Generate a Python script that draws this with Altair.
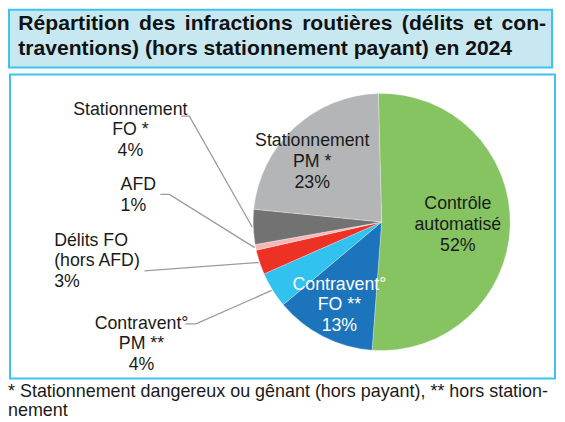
import math
import altair as alt
import pandas as pd

# ---------------- data ----------------
categories = ["Contrôle automatisé", "Contravent° FO", "Contravent° PM",
              "Délits FO", "AFD", "Stationnement FO", "Stationnement PM"]
shares = [51.6, 12.7, 4.5, 3.1, 0.7, 4.4, 23.0]
pct_labels = ["52%", "13%", "4%", "3%", "1%", "4%", "23%"]
label_names = ["Contrôle\nautomatisé", "Contravent°\nFO **", "Contravent°\nPM **",
               "Délits FO\n(hors AFD)", "AFD", "Stationnement\nFO *", "Stationnement\nPM *"]
colors = ["#86c462", "#1c75bc", "#31c2ef", "#ed3125", "#f8b7b7", "#727272", "#b3b5b7"]
title_lines = ["Répartition des infractions routières (délits et con-",
               "traventions) (hors stationnement payant) en 2024"]
footnote_lines = ["* Stationnement dangereux ou gênant (hors payant), ** hors station-",
                  "nement"]

# ---------------- layout / style ----------------
W, H = 551, 414
CX, CY, R = 375, 214, 129
START = math.radians(-1.5)
FONT = "Liberation Sans"
TXT = "#1a1a1a"
LINE = "#9b9b9b"
LAB_SIZE = 17.8
theta_scale = alt.Scale(domain=[0, 100], range=[START, START + 2 * math.pi])

df = pd.DataFrame({
    "idx": list(range(len(categories))),
    "cat": categories,
    "share": shares,
    "label": [n + "\n" + p for n, p in zip(label_names, pct_labels)],
})

# title box & plot frame
title_box = alt.Chart(alt.Data(values=[{}])).mark_rect(
    fill="#c7e8f1", stroke="#3ec3ee", strokeWidth=2
).encode(x=alt.value(1), x2=alt.value(546), y=alt.value(1), y2=alt.value(59))

frame = alt.Chart(alt.Data(values=[{}])).mark_rect(
    fill="white", stroke="#3ec3ee", strokeWidth=2
).encode(x=alt.value(2), x2=alt.value(549), y=alt.value(66), y2=alt.value(371))

# first title line is justified in the reference: widen its word gaps slightly
title_l1 = title_lines[0].replace(" ", " \u200a\u200a")
title1 = alt.Chart(alt.Data(values=[{"t": title_l1}])).mark_text(
    align="left", baseline="alphabetic", font=FONT, fontSize=21.2, fontWeight="bold", color="#111111"
).encode(text="t:N", x=alt.value(10.3), y=alt.value(21))

title2 = alt.Chart(alt.Data(values=[{"t": title_lines[1]}])).mark_text(
    align="left", baseline="alphabetic", font=FONT, fontSize=21.2, fontWeight="bold", color="#111111"
).encode(text="t:N", x=alt.value(10.3), y=alt.value(46))

foot = alt.Chart(alt.Data(values=[{"t": "\n".join(footnote_lines)}])).mark_text(
    align="left", baseline="alphabetic", font=FONT, fontSize=18, color=TXT,
    lineBreak="\n", lineHeight=19.5
).encode(text="t:N", x=alt.value(0), y=alt.value(389.5))

# pie
pie = alt.Chart(df).mark_arc(outerRadius=R, stroke="white", strokeWidth=0.3).encode(
    theta=alt.Theta("share:Q", stack=True, scale=theta_scale),
    color=alt.Color("cat:N", scale=alt.Scale(domain=categories, range=colors), legend=None),
    order=alt.Order("idx:Q"),
    x=alt.value(CX), y=alt.value(CY),
)

# labels inside slices (positioned at the slice mid-angle; dy lifts the 3-line block)
inside = {
    0: dict(radius=76.5, dx=0, dy=-20, color=TXT),
    1: dict(radius=93, dx=0, dy=-20, color="white"),
    6: dict(radius=93.5, dx=-6, dy=-13, color=TXT),
}
inside_layers = []
for k, o in inside.items():
    inside_layers.append(
        alt.Chart(df)
        .transform_window(cum="sum(share)", sort=[alt.SortField("idx")], frame=[None, 0])
        .transform_calculate(mid="datum.cum - datum.share / 2")
        .transform_filter(f"datum.idx == {k}")
        .mark_text(radius=o["radius"], dx=o["dx"], dy=o["dy"], align="center", baseline="middle",
                   lineBreak="\n", lineHeight=21, font=FONT, fontSize=LAB_SIZE, color=o["color"])
        .encode(theta=alt.Theta("mid:Q", scale=theta_scale, stack=False), text="label:N",
                x=alt.value(CX), y=alt.value(CY))
    )

# labels outside with leader lines (y = centre of the first text line)
outside = {
    5: dict(x=122.8, y=101.3, align="center", start=(174, 107.7), elbow=(182, 107.7)),
    4: dict(x=113, y=177, align="left", start=(153, 186.3), elbow=(162, 186.3)),
    3: dict(x=46.3, y=232.7, align="left", start=(137, 263), elbow=(137, 263)),
    2: dict(x=134, y=316.3, align="center", start=(178, 316.3), elbow=(188.7, 316.3)),
}
outside_layers = []
leader_rows = []
for k, o in outside.items():
    outside_layers.append(
        alt.Chart(df).transform_filter(f"datum.idx == {k}")
        .mark_text(align=o["align"], baseline="middle", lineBreak="\n", lineHeight=20.7,
                   font=FONT, fontSize=LAB_SIZE, color=TXT)
        .encode(text="label:N", x=alt.value(o["x"]), y=alt.value(o["y"]))
    )
    mid = sum(shares[:k]) + shares[k] / 2
    ang = START + 2 * math.pi * mid / 100
    px, py = CX + 130 * math.sin(ang), CY - 130 * math.cos(ang)
    pts = [o["start"], o["elbow"], (px, py)]
    for s, (x, y) in enumerate(pts):
        leader_rows.append({"key": k, "seq": s, "x": x, "y": y})

leaders = alt.Chart(pd.DataFrame(leader_rows)).mark_line(color=LINE, strokeWidth=1.3).encode(
    x=alt.X("x:Q", scale=None, axis=None),
    y=alt.Y("y:Q", scale=None, axis=None),
    detail="key:N",
    order="seq:Q",
)

chart = alt.layer(
    title_box, frame, title1, title2, foot, pie, leaders, *inside_layers, *outside_layers
).properties(
    width=W, height=H, autosize=alt.AutoSizeParams(type="none"), padding=0, background="white"
).configure_view(stroke=None)

chart.save("out.html", embed_options={"renderer": "svg", "actions": False})
